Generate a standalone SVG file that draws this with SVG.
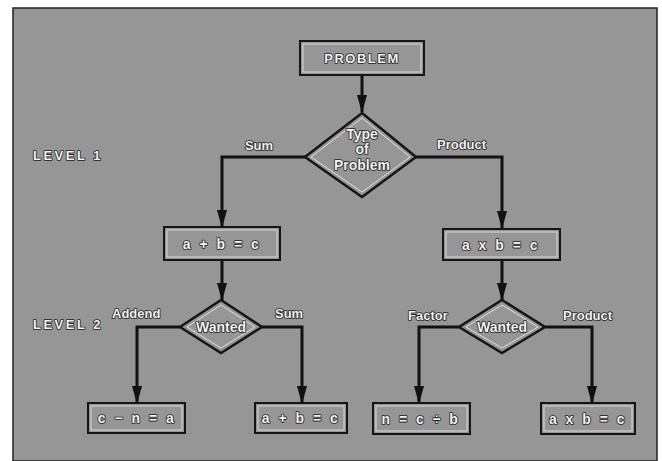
<svg xmlns="http://www.w3.org/2000/svg" width="662" height="461" viewBox="0 0 662 461">
<style>
text{font-family:"Liberation Sans",Arial,sans-serif;font-weight:bold;fill:#f4f4f4;stroke:#1a1a1a;stroke-width:1.6;paint-order:stroke;stroke-linejoin:round}
.lbl{font-size:13px}
.lvl{font-size:13px;letter-spacing:2.5px}
.box rect.o{fill:none;stroke:#151515;stroke-width:2}
.box rect.i{fill:none;stroke:#d8d8d8;stroke-width:1}
.box text{font-size:14px;letter-spacing:2.5px;text-anchor:middle}
.dia path.o{fill:none;stroke:#151515;stroke-width:2.5}
.dia path.i{fill:none;stroke:#e0e0e0;stroke-width:1}
.dia text{font-size:14px;text-anchor:middle}
.conn path{fill:none;stroke:#111;stroke-width:3;marker-end:url(#ah)}
</style>
<defs>
<marker id="ah" markerUnits="userSpaceOnUse" markerWidth="18" markerHeight="10" refX="17" refY="5" orient="auto" viewBox="0 0 18 10">
<path d="M0,0 L18,5 L0,10 Z" fill="#111"/>
</marker>
</defs>
<rect x="0" y="0" width="662" height="461" fill="#ffffff"/>
<rect x="13" y="8" width="644" height="453" fill="#969696" stroke="#222" stroke-width="1.5"/>

<g id="level1"><text class="lvl" x="33" y="160">LEVEL 1</text></g>
<g id="level2"><text class="lvl" x="33" y="329">LEVEL 2</text></g>

<g id="conn" class="conn">
<path d="M362,75 L362,112"/>
<path d="M305,157 L222,157 L222,227"/>
<path d="M415,157 L502,157 L502,228"/>
<path d="M222,260 L222,300"/>
<path d="M502,260 L502,300"/>
<path d="M180,327 L137,327 L137,403"/>
<path d="M262,327 L302,327 L302,403"/>
<path d="M459,327 L419,327 L419,403"/>
<path d="M545,327 L592,327 L592,403"/>
<text class="lbl" x="259" y="150" text-anchor="middle">Sum</text>
<text class="lbl" x="437" y="149">Product</text>
<text class="lbl" x="112" y="318">Addend</text>
<text class="lbl" x="275" y="318">Sum</text>
<text class="lbl" x="408" y="320">Factor</text>
<text class="lbl" x="563" y="320">Product</text>
</g>

<g id="problem" class="box"><rect class="o" x="300" y="41" width="124" height="34"/><rect class="i" x="303" y="44" width="118" height="28"/><text x="362" y="63" style="font-size:13px;letter-spacing:1.5px">PROBLEM</text></g>

<g id="type" class="dia"><path class="o" d="M362,113 L416,157 L362,197 L305,157 Z"/><path class="i" d="M362,118 L410,157 L362,192 L311,157 Z"/>
<text x="362" y="139">Type</text><text x="362" y="154">of</text><text x="362" y="170">Problem</text></g>

<g id="sumbox" class="box"><rect class="o" x="164" y="227" width="116" height="33"/><rect class="i" x="167" y="230" width="110" height="27"/><text x="222" y="249">a + b = c</text></g>
<g id="prodbox" class="box"><rect class="o" x="443" y="229" width="117" height="31"/><rect class="i" x="446" y="232" width="111" height="25"/><text x="501" y="250">a x b = c</text></g>

<g id="wanted1" class="dia"><path class="o" d="M221,300 L262,327 L221,353 L180,327 Z"/><path class="i" d="M221,305 L255,327 L221,348 L187,327 Z"/><text x="221" y="332">Wanted</text></g>
<g id="wanted2" class="dia"><path class="o" d="M502,300 L545,327 L502,353 L459,327 Z"/><path class="i" d="M502,305 L538,327 L502,348 L466,327 Z"/><text x="502" y="332">Wanted</text></g>

<g id="addend" class="box"><rect class="o" x="88" y="403" width="97" height="30"/><rect class="i" x="91" y="406" width="91" height="24"/><text x="137" y="423">c − n = a</text></g>
<g id="sum2" class="box"><rect class="o" x="255" y="403" width="92" height="30"/><rect class="i" x="258" y="406" width="86" height="24"/><text x="301" y="423">a + b = c</text></g>
<g id="factor" class="box"><rect class="o" x="373" y="403" width="97" height="31"/><rect class="i" x="376" y="406" width="91" height="25"/><text x="421" y="424">n = c ÷ b</text></g>
<g id="product2" class="box"><rect class="o" x="541" y="403" width="94" height="31"/><rect class="i" x="544" y="406" width="88" height="25"/><text x="588" y="424">a x b = c</text></g>
</svg>
